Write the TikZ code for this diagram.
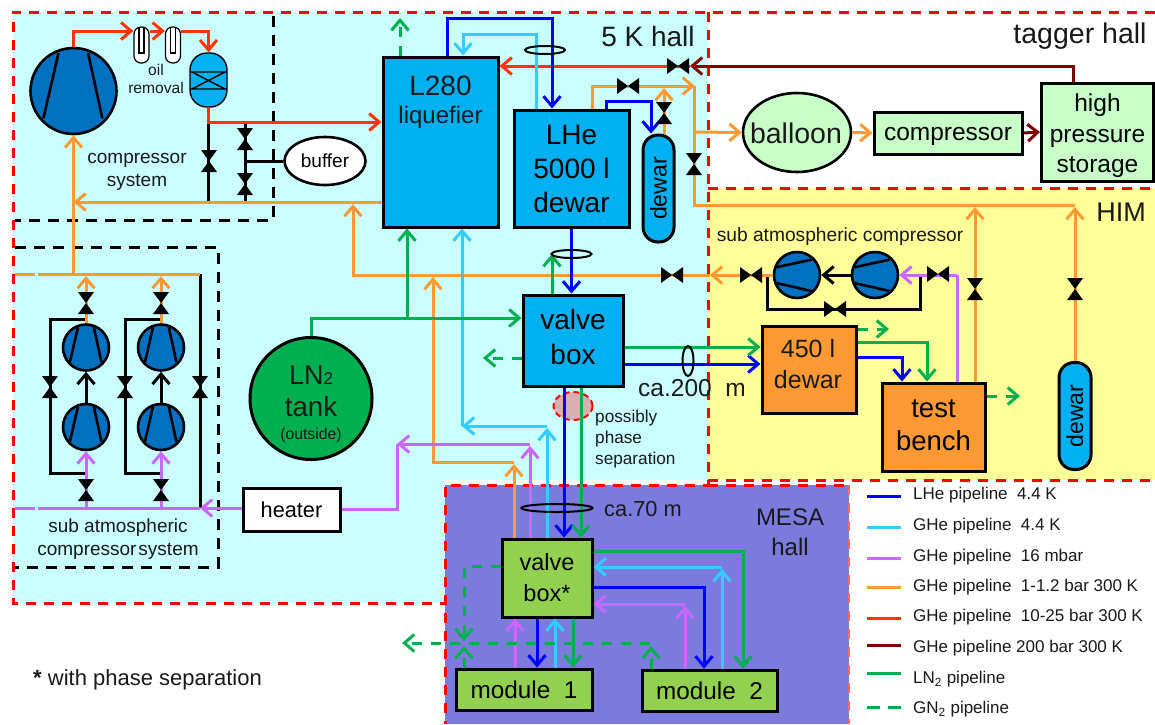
\documentclass[tikz,border=0pt]{standalone}
\usepackage{fontspec}
\setmainfont{Liberation Sans}
\usepackage{graphicx}
\usetikzlibrary{arrows.meta,shapes.geometric}
\definecolor{cHall}{HTML}{C9FFFF}
\definecolor{cHim}{HTML}{FFFF99}
\definecolor{cMesa}{HTML}{7B7BDD}
\definecolor{cBox}{HTML}{00B0F0}
\definecolor{cComp}{HTML}{0070C0}
\definecolor{cOr}{HTML}{FF9933}
\definecolor{cLime}{HTML}{92D050}
\definecolor{cPale}{HTML}{C8FFC8}
\definecolor{cLHe}{HTML}{0000FF}
\definecolor{cGHe}{HTML}{33CCFF}
\definecolor{cSub}{HTML}{CC66FF}
\definecolor{cHP}{HTML}{FF3300}
\definecolor{cVHP}{HTML}{800000}
\definecolor{cLN}{HTML}{00B050}
\definecolor{cPhase}{HTML}{D9AFAF}
\newcommand\fsz[2]{\fontsize{#1}{#2}\selectfont}
\tikzset{
  boxn/.style={draw=black,line width=3pt,rectangle,inner sep=0pt,align=center},
  txt/.style={inner sep=0pt,align=center,text=black!90},
  oval/.style={draw=black,line width=2pt,ellipse,inner sep=0pt,fill=none},
  pipe/.style={line width=3pt,line join=miter},
  arr/.style={-{Straight Barb[length=10pt,width=17pt]}},
  lhe/.style={pipe,draw=cLHe},
  ghe/.style={pipe,draw=cGHe},
  subp/.style={pipe,draw=cSub},
  warm/.style={pipe,draw=cOr},
  hp/.style={pipe,draw=cHP},
  vhp/.style={pipe,draw=cVHP},
  ln/.style={pipe,draw=cLN},
  gn/.style={pipe,draw=cLN,dash pattern=on 10pt off 9pt},
  blk/.style={pipe,draw=black},
  hall/.style={draw=red,line width=3pt,dash pattern=on 10pt off 8pt},
  sys/.style={draw=black,line width=3pt,dash pattern=on 11pt off 8pt},
  tube/.style={draw=black,line width=1.2pt,fill=white,rounded corners=7pt,minimum width=15pt,minimum height=36pt,inner sep=0pt},
  dewarn/.style={draw=black,line width=3pt,fill=cBox,rounded corners=15pt,minimum width=31pt,minimum height=107pt,inner sep=0pt},
  comp/.style={draw=black,line width=2.6pt,fill=cComp,circle,inner sep=0pt},
}
\newcommand\compV[4]{%
  \node[comp,minimum size={2*#4}] (#1) at (#2,#3) {};
  \draw[black,line width=2.6pt,shift={(#2,#3)}] (-.35*#4,-.88*#4) -- (-.70*#4,.635*#4) (.34*#4,-.88*#4) -- (.67*#4,.635*#4);}
\newcommand\compH[4]{%
  \node[comp,minimum size={2*#4}] (#1) at (#2,#3) {};
  \draw[black,line width=2.6pt,shift={(#2,#3)}] (-.88*#4,.35*#4) -- (.635*#4,.70*#4) (-.88*#4,-.34*#4) -- (.635*#4,-.67*#4);}
\newcommand\valveH[2]{\fill[black] (#1-11,#2-8) -- (#1+11,#2+8) -- (#1+11,#2-8) -- (#1-11,#2+8) -- cycle;}
\newcommand\valveV[2]{\fill[black] (#1-8,#2-11) -- (#1+8,#2+11) -- (#1-8,#2+11) -- (#1+8,#2-11) -- cycle;}
\begin{document}
\begin{tikzpicture}[x=1pt,y=-1pt]
\useasboundingbox (0,0) rectangle (1155,724);
% hall backgrounds
\fill[white] (0,0) rectangle (1155,724);
\fill[cHall] (13,12) rectangle (708,603);
\fill[cHim] (708,188) rectangle (1155,480);
\fill[white] (445,480) rectangle (1155,485);
\fill[cMesa] (445,485) rectangle (849,724);
% hall boundaries
\draw[hall] (1155,12) -- (13,12) -- (13,603) -- (445,603);
\draw[hall] (708,12) -- (708,485) -- (445,485) -- (445,724);
\draw[hall] (708,188) -- (1155,188);
\draw[hall] (708,480) -- (1155,480);
\draw[hall] (708,485) -- (849,485);
\draw[draw=red!60,line width=1.4pt,dash pattern=on 10pt off 8pt] (849,485) -- (849,724);
% subsystem boundaries
\draw[sys] (273,16) -- (273,220) -- (15,220);
\draw[sys] (15,247) -- (218,247) -- (218,567) -- (15,567);
% possibly phase separation
\node[draw=red,fill=cPhase,line width=2pt,dash pattern=on 6pt off 4pt,ellipse,minimum width=39pt,minimum height=28pt,inner sep=0pt] (phase) at (573,406) {};
% compressor system
\compV{main}{73.5}{91}{43}
\node[tube] (t1) at (141.5,45) {};
\node[tube] (t2) at (173,45) {};
\draw[black,line width=1.2pt] (139,28) -- (139,53) -- (144,53) -- (144,28);
\draw[black,line width=1.2pt] (170.5,28) -- (170.5,53) -- (175.5,53) -- (175.5,28);
\node[draw=black,line width=1.4pt,fill=cBox,rounded corners=17pt,minimum width=37pt,minimum height=54pt,inner sep=0pt] (vessel) at (208.5,80) {};
\draw[black,line width=1.4pt] (190,72) -- (227,72) (190,89) -- (227,89) (192,72) -- (225,89) (192,89) -- (225,72);
\node[draw=black,line width=2.6pt,fill=white,ellipse,minimum width=81pt,minimum height=48pt,inner sep=0pt,font=\fsz{19}{19}] (buffer) at (325,161) {buffer};
\node[txt,font=\fsz{15.6}{18}] (oil) at (156,79) {oil\\removal};
\node[txt,font=\fsz{19}{23}] (compsys) at (137,172) {compressor\\system};
% main boxes
\node[boxn,fill=cBox,minimum width=115pt,minimum height=170pt] (l280) at (440.5,142) {};
\node[txt,font=\fsz{28}{28}] (l280a) at (440.5,86) {L280};
\node[txt,font=\fsz{24}{24}] (l280b) at (440.5,117) {liquefier};
\node[boxn,fill=cBox,minimum width=115pt,minimum height=117pt,font=\fsz{28}{34}] (lhe) at (571.5,168.5) {LHe\\5000 l\\dewar};
\node[dewarn,font=\fsz{23}{23}] (d1) at (658.5,188.5) {\rotatebox{90}{dewar}};
\node[boxn,fill=cBox,minimum width=100pt,minimum height=91pt,font=\fsz{28}{35}] (vb) at (573,340.5) {valve\\box\rule[-8pt]{0pt}{0pt}};
\node[draw=black,line width=3pt,fill=cLN,circle,minimum size=122pt,inner sep=0pt] (tank) at (311,398.5) {};
\node[txt,font=\fsz{27}{27}] (tanka) at (311,375) {LN{\fsz{17}{17}2}};
\node[txt,font=\fsz{27.7}{28}] (tankb) at (311,407) {tank};
\node[txt,font=\fsz{15.8}{16}] (tankc) at (311,435) {(outside)};
\node[boxn,fill=white,minimum width=97pt,minimum height=43pt,font=\fsz{21.7}{22}] (heater) at (291.5,509.5) {heater};
% tagger hall
\node[draw=black,line width=2.6pt,fill=cPale,ellipse,minimum width=108pt,minimum height=79pt,inner sep=0pt] (balloon) at (797,132.5) {};
\node[txt,font=\fsz{28.5}{29}] (balloont) at (796,133) {balloon};
\node[boxn,fill=cPale,minimum width=148pt,minimum height=42pt,font=\fsz{24.5}{25}] (comp) at (948,133) {\raisebox{-7pt}[0pt][0pt]{compressor}};
\node[boxn,fill=cPale,minimum width=112pt,minimum height=98pt,font=\fsz{24.5}{30.5}] (store) at (1097.5,132) {\rule{0pt}{26pt}high\\pressure\\storage};
% HIM
\node[boxn,fill=cOr,minimum width=94pt,minimum height=87pt] (d450) at (809,369.5) {};
\node[txt,font=\fsz{25}{31}] (d450t) at (808,364) {450 l\\dewar};
\node[boxn,fill=cOr,minimum width=103pt,minimum height=88pt,font=\fsz{27.5}{33}] (bench) at (933.5,427) {test\\bench\rule[-4pt]{0pt}{0pt}};
\node[dewarn,minimum width=32pt,font=\fsz{23}{23}] (d2) at (1075,416) {\rotatebox{90}{dewar}};
\compH{hc1}{797}{275}{23}
\compH{hc2}{875}{275}{23}
\node[txt,font=\fsz{19.2}{19}] (hcl) at (840,237) {sub atmospheric compressor};
% MESA
\node[boxn,fill=cLime,minimum width=90pt,minimum height=78pt,font=\fsz{23.5}{31}] (vbs) at (547,578) {valve\\box*};
\node[boxn,fill=cLime,minimum width=136pt,minimum height=41pt,font=\fsz{24.3}{25}] (m1) at (524,689.5) {module\ \ 1};
\node[boxn,fill=cLime,minimum width=135pt,minimum height=41pt,font=\fsz{24.3}{25}] (m2) at (709.5,690.5) {module\ \ 2};
% sub atmospheric compressor system
\compV{a1}{86}{347.5}{23}
\compV{a2}{86}{427}{23}
\compV{b1}{161}{347.5}{23}
\compV{b2}{161}{427}{23}
\node[txt,font=\fsz{19}{23}] (subsys) at (118,539) {sub atmospheric\\compressor\hspace{.1em}system};
% black lines
\draw[blk] (vessel.south |- 0,122) -- (vessel.south |- 0,202);
\draw[blk] (245,122) -- (245,202);
\draw[blk] (245,161) -- (buffer.west);
\draw[blk,arr] (a2.north) -- (a1.south);
\draw[blk,arr] (b2.north) -- (b1.south);
\draw[blk] (a1.north |- 0,319) -- (50,319) -- (50,473) -- (a2.south |- 0,473);
\draw[blk] (b1.north |- 0,319) -- (125,319) -- (125,473) -- (b2.south |- 0,473);
\draw[blk] (200,274) -- (200,508);
\draw[blk,arr] (hc2.west) -- (hc1.east);
\draw[blk] (920,275) -- (920,309) -- (767,309) -- (767,275);
% orange pipes
\draw[warm,arr] (l280.west |- 0,202) -- (73.5,202);
\draw[warm,arr] (73.5,274) -- (main.south);
\draw[warm] (50,274) -- (200,274);
\draw[warm,dash pattern=on 20pt off 3pt on 12pt off 100pt] (15,274) -- (50,274);
\draw[warm,arr] (a1.north) -- (86,276);
\draw[warm,arr] (b1.north) -- (161,276);
\draw[warm,arr] (hc1.west) -- (710,275);
\draw[warm,arr] (710,275) -- (353,275) -- (353,204);
\draw[warm,arr] (vbs.north -| 514,0) -- (514,464);
\draw[warm,arr] (514,462) -- (433,462) -- (433,277);
\draw[warm,arr] (lhe.north -| 592,0) -- (592,86) -- (695,86);
\draw[warm,arr] (d1.north -| 664,0) -- (664,88);
\draw[warm] (694,86) -- (694,205) -- (1075,205);
\draw[warm,arr] (694,132) -- (balloon.west);
\draw[warm,arr] (balloon.east) -- (comp.west);
\draw[warm,arr] (bench.north -| 975,0) -- (975,207);
\draw[warm,arr] (d2.north) -- (1075,207);
% high pressure
\draw[hp,arr] (main.north) |- (t1.west |- 0,31);
\draw[hp,arr] (t1.east |- 0,31) -- (t2.west |- 0,31);
\draw[hp,arr] (t2.east |- 0,31) -| (vessel.north);
\draw[hp,arr] (vessel.south) |- (l280.west |- 0,122);
\coordinate (vtag) at (690,66);
\draw[hp,arr] (vtag) -- (l280.east |- 0,66);
\draw[vhp,arr] (store.north -| 1073,0) |- (vtag);
\draw[vhp,arr] (comp.east) -- (store.west);
% liquid helium
\draw[lhe,arr] (l280.north -| 447,0) -- (447,18) -- (552,18) -- (lhe.north -| 552,0);
\draw[lhe,arr] (lhe.north -| 606,0) -- (606,101) -- (651,101) -- (d1.north -| 651,0);
\draw[lhe,arr] (lhe.south) -- (vb.north -| 571.5,0);
\draw[lhe,arr] (vb.east |- 0,364) -- (d450.west |- 0,364);
\draw[lhe,arr] (vb.south -| 564,0) -- (vbs.north -| 564,0);
\draw[lhe,arr] (d450.east |- 0,357) -- (902,357) -- (bench.north -| 902,0);
\draw[lhe,arr] (vbs.east |- 0,587) -- (704,587) -- (m2.north -| 704,0);
\draw[lhe,arr] (vbs.south -| 537,0) -- (m1.north -| 537,0);
% cold gas helium
\draw[ghe,arr] (lhe.north -| 536,0) -- (536,34) -- (463,34) -- (l280.north -| 463,0);
\draw[ghe,arr] (462,426) -- (l280.south -| 462,0);
\draw[ghe,arr] (547,426) -- (462,426);
\draw[ghe,arr] (vbs.north -| 547,0) -- (547,428);
\draw[ghe,arr] (m2.north -| 722,0) -- (722,569);
\draw[ghe,arr] (722,567) -- (vbs.east |- 0,567);
\draw[ghe,arr] (m1.north -| 555,0) -- (vbs.south -| 555,0);
% 16 mbar
\draw[subp,arr] (530,444) -- (397,444);
\draw[subp,arr] (vbs.north -| 530,0) -- (530,446);
\draw[subp] (heater.east |- 0,509) -- (397,509) -- (397,444);
\draw[subp,arr] (heater.west |- 0,508) -- (200,508);
\draw[subp] (50,508) -- (200,508);
\draw[subp,dash pattern=on 20pt off 3pt on 12pt off 100pt] (15,508) -- (50,508);
\draw[subp,arr] (86,508) -- (a2.south);
\draw[subp,arr] (161,508) -- (b2.south);
\draw[subp] (bench.north -| 957,0) -- (957,275);
\draw[subp,arr] (957,275) -- (hc2.east);
\draw[subp,arr] (m2.north -| 685,0) -- (685,606);
\draw[subp,arr] (685,604) -- (vbs.east |- 0,604);
\draw[subp,arr] (m1.north -| 515,0) -- (vbs.south -| 515,0);
% liquid nitrogen
\draw[ln,arr] (tank.north) -- (311,318) -- (vb.west |- 0,318);
\draw[ln,arr] (407,318) -- (l280.south -| 407,0);
\draw[ln,arr] (vb.north -| 552,0) -- (552,254);
\draw[ln,arr] (vb.east |- 0,347) -- (d450.west |- 0,347);
\draw[ln,arr] (vb.south -| 581,0) -- (vbs.north -| 581,0);
\draw[ln,arr] (d450.east |- 0,342) -- (927,342) -- (bench.north -| 927,0);
\draw[ln,arr] (vbs.east |- 0,551) -- (743,551) -- (m2.north -| 743,0);
\draw[ln,arr] (vbs.south -| 573,0) -- (m1.north -| 573,0);
% gaseous nitrogen
\draw[gn,arr] (l280.north -| 400,0) -- (400,18);
\draw[gn,arr] (vb.west |- 0,358) -- (483,358);
\draw[gn,arr] (d450.east |- 0,329) -- (889,329);
\draw[gn,arr] (bench.east |- 0,396) -- (1020,396);
\draw[gn,arr] (vbs.west |- 0,566) -- (464,566) -- (464,641);
\draw[gn,arr] (650,643) -- (402,643);
\draw[gn,arr] (m1.north -| 464,0) -- (464,646);
\draw[gn,arr] (m2.north -| 651,0) -- (651,646);
% ovals
\node[oval,minimum width=40pt,minimum height=8pt] (o1) at (545,50) {};
\node[oval,minimum width=40pt,minimum height=8pt] (o2) at (571.5,254) {};
\node[oval,minimum width=11pt,minimum height=30pt] (o3) at (688,361) {};
\node[oval,minimum width=71pt,minimum height=8pt] (o4) at (557,508) {};
% valves
\valveV{209}{161}\valveV{245}{139}\valveV{245}{184}
\valveH{678}{66}\valveH{628}{86}\valveV{664}{113}\valveV{694}{164}
\valveH{672}{275}\valveH{751}{275}\valveH{938}{274}\valveH{835}{309}
\valveV{975}{289}\valveV{1075}{289}
\valveV{86}{303}\valveV{161}{303}\valveV{86}{490}\valveV{161}{490}
\valveV{50}{387}\valveV{125}{387}\valveV{200}{387}
% labels
\node[txt,font=\fsz{28}{28}] (l5k) at (648,36) {5 K hall};
\node[txt,font=\fsz{28.5}{28}] (ltag) at (1080,36) {tagger hall};
\node[txt,font=\fsz{27}{27}] (lhim) at (1121,212) {HIM};
\node[txt,font=\fsz{24}{30}] (lmesa) at (790,532) {MESA\\hall};
\node[txt,font=\fsz{24.5}{25}] (l200) at (692,388) {ca.200\ \ m};
\node[txt,font=\fsz{21.8}{22}] (l70) at (643,509) {ca.70 m};
\node[txt,font=\fsz{17.2}{21},align=left,anchor=west] (lphase) at (595,439) {possibly\\phase\\separation};
\node[txt,font=\fsz{22}{22},anchor=west] (lstar) at (33,680) {\textbf{*} with phase separation};
% legend
\tikzset{legtxt/.style={txt,font=\fsz{17}{17},anchor=west}}
\coordinate (k1a) at (867,496); \coordinate (k1b) at (901,496);
\coordinate (k2a) at (867,527); \coordinate (k2b) at (901,527);
\coordinate (k3a) at (867,558); \coordinate (k3b) at (901,558);
\coordinate (k4a) at (867,587); \coordinate (k4b) at (901,587);
\coordinate (k5a) at (867,618); \coordinate (k5b) at (901,618);
\coordinate (k6a) at (867,645); \coordinate (k6b) at (901,645);
\coordinate (k7a) at (867,673); \coordinate (k7b) at (901,673);
\coordinate (k8a) at (867,707); \coordinate (k8b) at (901,707);
\draw[lhe] (k1a) -- (k1b);
\draw[ghe] (k2a) -- (k2b);
\draw[subp] (k3a) -- (k3b);
\draw[warm] (k4a) -- (k4b);
\draw[hp] (k5a) -- (k5b);
\draw[vhp] (k6a) -- (k6b);
\draw[ln] (k7a) -- (k7b);
\draw[pipe,draw=cLN,dash pattern=on 13pt off 8pt] (k8a) -- (k8b);
\node[legtxt] (t1l) at (913,495) {LHe pipeline\ \ 4.4 K};
\node[legtxt] (t2l) at (913,526) {GHe pipeline\ \ 4.4 K};
\node[legtxt] (t3l) at (913,557) {GHe pipeline\ \ 16 mbar};
\node[legtxt] (t4l) at (913,587) {GHe pipeline\ \ 1-1.2 bar 300 K};
\node[legtxt] (t5l) at (913,617) {GHe pipeline\ \ 10-25 bar 300 K};
\node[legtxt] (t6l) at (913,648) {GHe pipeline\ 200 bar 300 K};
\node[legtxt] (t7l) at (913,679) {LN\textsubscript{2} pipeline};
\node[legtxt] (t8l) at (913,709) {GN\textsubscript{2} pipeline};
\end{tikzpicture}
\end{document}
